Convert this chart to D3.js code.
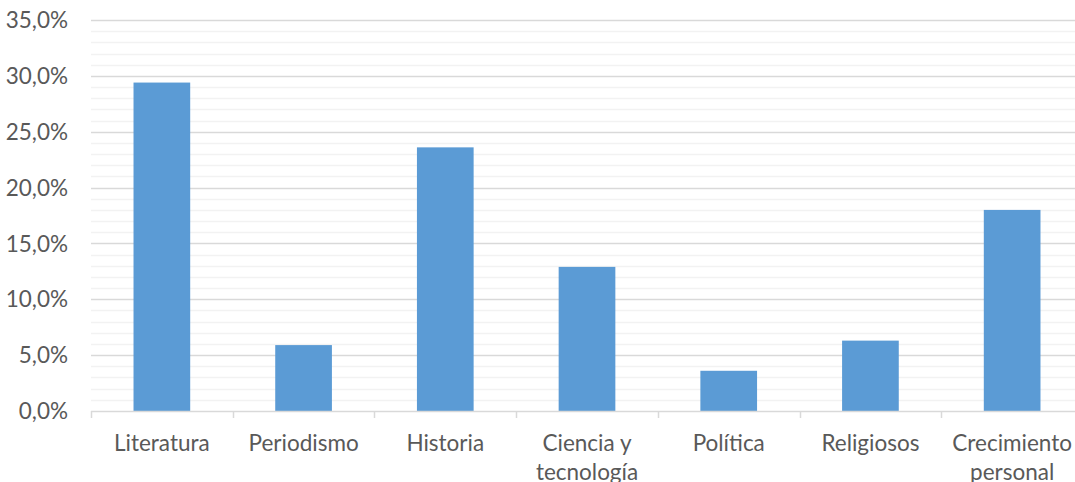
<!DOCTYPE html>
<html><head><meta charset="utf-8">
<script src="https://cdnjs.cloudflare.com/ajax/libs/d3/7.8.5/d3.min.js"></script>
<style>body{margin:0;background:#fff;}svg{display:block;}</style>
</head><body>
<svg id="c" width="1075" height="482"></svg>
<script>
const categories = [["Literatura"],["Periodismo"],["Historia"],["Ciencia y","tecnología"],["Política"],["Religiosos"],["Crecimiento","personal"]];
const values = [29.4, 5.9, 23.6, 12.9, 3.6, 6.3, 18.0];
const yTicks = [0,5,10,15,20,25,30,35];

const svg = d3.select("#c");
const font = "Lato, 'Open Sans', sans-serif";
const fs = 22.5;
const x = d3.scaleBand().domain(d3.range(categories.length)).range([91, 1083]).paddingInner(0.6).paddingOuter(0.3);
const y = d3.scaleLinear().domain([0,35]).range([411, 20]);

// minor gridlines
svg.append("g").selectAll("line").data(d3.range(0,36,1).filter(v=>v%5!==0)).join("line")
  .attr("x1",91).attr("x2",1083).attr("y1",d=>Math.round(y(d))+0.5).attr("y2",d=>Math.round(y(d))+0.5)
  .attr("stroke","#f2f2f2").attr("stroke-width",1.5);
// major gridlines
svg.append("g").selectAll("line").data(yTicks.slice(1)).join("line")
  .attr("x1",91).attr("x2",1083).attr("y1",d=>Math.round(y(d))+0.5).attr("y2",d=>Math.round(y(d))+0.5)
  .attr("stroke","#d9d9d9").attr("stroke-width",1.5);

// bars
svg.append("g").selectAll("rect").data(values).join("rect")
  .attr("x",(d,i)=>x(i)).attr("width",x.bandwidth())
  .attr("y",d=>y(d)).attr("height",d=>y(0)-y(d))
  .attr("fill","#5b9bd5");

// x axis
const bounds = d3.range(categories.length+1).map(i=>91 + i*(1083-91)/categories.length);
svg.append("line").attr("x1",91).attr("x2",1083).attr("y1",411.5).attr("y2",411.5).attr("stroke","#d9d9d9").attr("stroke-width",1.5);
svg.append("g").selectAll("line").data(bounds).join("line")
  .attr("x1",d=>Math.round(d)+0.5).attr("x2",d=>Math.round(d)+0.5).attr("y1",411).attr("y2",418)
  .attr("stroke","#d9d9d9").attr("stroke-width",1.5);

// y labels
svg.append("g").selectAll("text").data(yTicks).join("text")
  .attr("x",68).attr("y",d=>y(d)).attr("dy","0.36em").attr("text-anchor","end")
  .attr("font-family",font).attr("font-size",fs).attr("fill","#595959")
  .text(d=>d3.format(".1f")(d).replace(".",",")+"%");

// x labels
const xl = svg.append("g").selectAll("text").data(categories).join("text")
  .attr("text-anchor","middle").attr("font-family",font).attr("font-size",fs).attr("fill","#595959")
  .attr("transform",(d,i)=>`translate(${x(i)+x.bandwidth()/2},451)`);
xl.selectAll("tspan").data(d=>d).join("tspan").attr("x",0).attr("y",(d,j)=>j*29).text(d=>d);
</script>
</body></html>
